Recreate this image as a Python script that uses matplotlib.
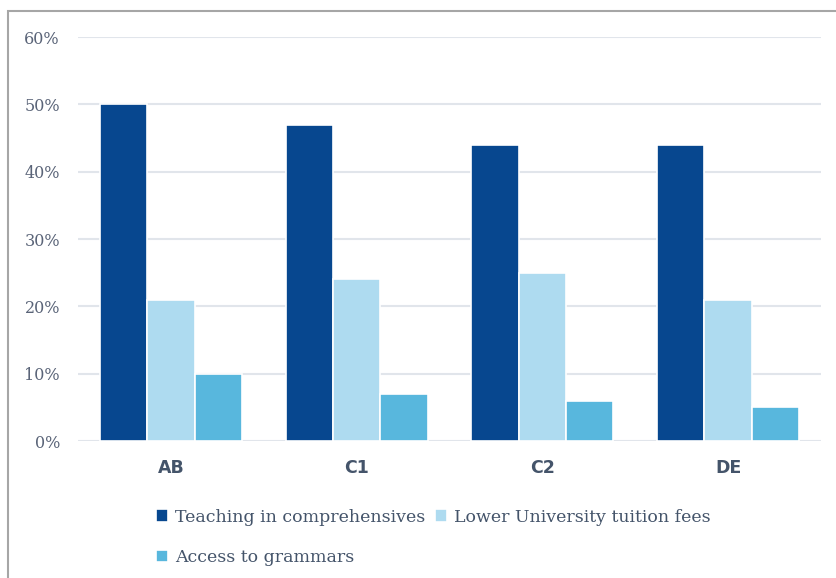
import matplotlib
matplotlib.use("Agg")
import matplotlib.pyplot as plt
from matplotlib.patches import Rectangle
from matplotlib.ticker import FuncFormatter
import numpy as np

categories = ["AB", "C1", "C2", "DE"]
series_names = ["Teaching in comprehensives", "Lower University tuition fees", "Access to grammars"]
teaching = [50, 47, 44, 44]
tuition = [21, 24, 25, 21]
grammars = [10, 7, 6, 5]
y_ticks = [0, 10, 20, 30, 40, 50, 60]

colors = ["#07478F", "#AEDBF0", "#58B7DD"]
text_color = "#44546A"

W, H = 837, 578
fig = plt.figure(figsize=(W / 100, H / 100), dpi=100)
ax = fig.add_axes([78 / W, 1 - 441 / H, (821 - 78) / W, (441 - 37) / H])

x = np.arange(len(categories))
bw = 0.255
handles = []
for i, (vals, name) in enumerate(zip([teaching, tuition, grammars], series_names)):
    b = ax.bar(x + (i - 1) * bw, vals, width=bw, color=colors[i], edgecolor="white",
               linewidth=1.2, label=name, zorder=3)
    handles.append(b)

ax.set_xlim(-0.5, len(categories) - 0.5)
ax.set_ylim(0, 60)
ax.set_yticks(y_ticks)
ax.yaxis.set_major_formatter(FuncFormatter(lambda v, p: f"{int(v)}%"))
ax.grid(axis="y", color="#E1E5EB", linewidth=1.5, zorder=0)
ax.set_axisbelow(True)
for s in ax.spines.values():
    s.set_visible(False)
ax.tick_params(axis="both", length=0)
ax.tick_params(axis="y", pad=13, labelcolor="#5A6478", labelsize=11.5)
ax.tick_params(axis="x", pad=13, labelcolor=text_color, labelsize=12.5)
ax.set_xticks(x)
ax.set_xticklabels(categories, fontweight="bold", family="DejaVu Sans")
for lbl in ax.get_yticklabels():
    lbl.set_family("DejaVu Serif")

leg = fig.legend([handles[0], handles[2], handles[1]],
                 [series_names[0], series_names[2], series_names[1]],
                 ncol=2, loc="upper left", bbox_to_anchor=(140 / W, 1 - 493 / H),
                 frameon=False, handlelength=0.7, handleheight=0.7, handletextpad=0.4,
                 columnspacing=0.55, labelspacing=1.35,
                 prop={"family": "DejaVu Serif", "size": 12.5})
for t in leg.get_texts():
    t.set_color(text_color)

fig.patches.append(Rectangle((8 / W, -0.05), 1.2, 1.05 - 11 / H, transform=fig.transFigure,
                             fill=False, edgecolor="#A6A6A6", linewidth=1.5))

fig.savefig("out.png", dpi=100)
